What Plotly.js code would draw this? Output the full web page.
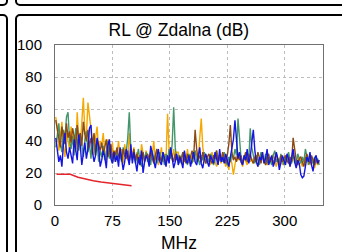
<!DOCTYPE html>
<html>
<head>
<meta charset="utf-8">
<script src="https://cdn.plot.ly/plotly-3.0.1.min.js"></script>
<style>
  html, body { margin: 0; padding: 0; background: #fff; overflow: hidden; }
  #wrap { position: relative; width: 342px; height: 252px; overflow: hidden; }
  #chart { position: absolute; left: 0; top: 0; width: 342px; height: 252px; }
  .frame { position: absolute; box-sizing: border-box; border: 2px solid #000; border-radius: 5px; pointer-events: none; }
</style>
</head>
<body>
<div id="wrap">
  <div id="chart"></div>
  <div class="frame" style="left:-100px; top:-100px; width:108px; height:106px;"></div>
  <div class="frame" style="left:-100px; top:14px; width:108px; height:400px;"></div>
  <div class="frame" style="left:15px; top:-100px; width:400px; height:106px;"></div>
  <div class="frame" style="left:15px; top:14px; width:400px; height:400px;"></div>
</div>
<script>
// Frequency sweep: start 1 MHz, step 2 MHz (applied through x0/dx)
const freqStart = 1;
const freqStep = 2;

const blueRL = [
  42, 35, 27, 31, 24, 38, 45, 33, 29, 36,
  30, 26, 41, 34, 28, 44, 37, 25, 32, 39,
  29, 35, 48, 50, 33, 27, 31, 42, 36, 24,
  28, 34, 30, 23, 37, 41, 29, 26, 33, 27,
  31, 24, 36, 29, 22, 27, 35, 30, 25, 38,
  26, 33, 28, 21, 30, 25, 34, 20, 27, 31,
  29, 24, 37, 32, 26, 23, 30, 35, 27, 25,
  33, 28, 24, 31, 26, 36, 29, 23, 27, 32,
  25, 30, 27, 23, 34, 28, 26, 31, 24, 29,
  33, 27, 25, 30, 36, 26, 23, 29, 32, 27,
  24, 31, 28, 26, 33, 29, 25, 35, 27, 30,
  26, 32, 28, 24, 30, 36, 41, 53, 38, 29,
  33, 27, 25, 31, 28, 35, 26, 30, 39, 47,
  34, 27, 24, 30, 28, 33, 26, 29, 35, 25,
  28, 31, 24, 27, 33, 29, 22, 26, 31, 28,
  25, 32, 29, 24, 30, 35, 27, 23, 28, 26,
  19, 17, 18, 24, 30, 27, 33, 25, 21, 29,
  31, 26, 28
];
const greenRL = [
  36, 44, 51, 38, 33, 47, 42, 55, 58, 40,
  35, 43, 31, 48, 39, 34, 45, 37, 30, 41,
  46, 33, 38, 29, 42, 36, 31, 39, 27, 34,
  30, 37, 28, 33, 40, 29, 35, 26, 32, 28,
  34, 29, 31, 27, 36, 30, 33, 42, 58, 35,
  28, 32, 26, 30, 35, 27, 24, 31, 29, 33,
  27, 30, 25, 34, 28, 31, 26, 29, 33, 27,
  30, 25, 32, 28, 35, 29, 38, 61, 36, 28,
  31, 26, 29, 33, 27, 30, 25, 32, 28, 26,
  30, 34, 27, 29, 25, 31, 28, 33, 26, 29,
  27, 32, 30, 25, 28, 34, 26, 31, 29, 27,
  33, 28, 25, 30, 27, 32, 29, 35, 31, 54,
  40, 29, 26, 31, 28, 33, 27, 48, 36, 30,
  26, 31, 28, 25, 33, 29, 27, 32, 26, 30,
  28, 25, 31, 34, 27, 29, 26, 32, 28, 25,
  30, 27, 33, 28, 26, 31, 29, 25, 32, 28,
  26, 30, 27, 35, 29, 25, 31, 28, 26, 30,
  27, 29, 25
];
const orangeRL = [
  55, 48, 34, 42, 52, 37, 30, 45, 40, 35,
  49, 38, 44, 33, 58, 41, 36, 52, 67, 46,
  43, 64, 56, 47, 38, 31, 42, 49, 34, 40,
  37, 45, 33, 28, 41, 36, 30, 39, 27, 34,
  32, 40, 29, 35, 26, 38, 31, 28, 45, 33,
  30, 36, 27, 33, 29, 25, 38, 31, 27, 34,
  29, 26, 35, 31, 40, 28, 33, 25, 30, 36,
  27, 32, 29, 57, 34, 31, 28, 35, 29, 33,
  33, 27, 30, 25, 32, 28, 35, 26, 31, 29,
  27, 34, 30, 28, 42, 54, 36, 29, 26, 31,
  28, 25, 33, 30, 27, 24, 31, 29, 26, 32,
  29, 24, 27, 22, 30, 26, 19, 25, 31, 28,
  33, 27, 24, 30, 28, 25, 32, 27, 29, 26,
  31, 28, 24, 30, 27, 33, 26, 29, 25, 28,
  30, 26, 32, 28, 24, 29, 27, 31, 25, 28,
  26, 30, 27, 24, 29, 32, 26, 28, 25, 30,
  27, 24, 29, 26, 31, 28, 25, 30, 26, 23,
  28, 25, 27
];
const brownRL = [
  53, 47, 40, 36, 49, 44, 38, 51, 42, 46,
  39, 48, 43, 35, 50, 41, 45, 37, 52, 44,
  40, 47, 36, 42, 38, 45, 33, 41, 37, 34,
  39, 32, 36, 41, 30, 35, 38, 29, 34, 31,
  36, 30, 33, 28, 35, 31, 29, 34, 27, 32,
  30, 35, 28, 32, 26, 31, 29, 33, 27, 30,
  32, 28, 34, 29, 26, 31, 35, 28, 30, 27,
  33, 29, 26, 31, 28, 34, 30, 27, 32, 29,
  28, 31, 27, 33, 29, 26, 32, 28, 30, 34,
  29, 47, 35, 28, 31, 27, 33, 29, 26, 30,
  32, 28, 26, 31, 29, 34, 27, 30, 28, 33,
  29, 26, 31, 38, 50, 33, 28, 30, 27, 32,
  28, 31, 26, 30, 33, 27, 29, 32, 28, 26,
  30, 27, 33, 29, 26, 31, 28, 25, 30, 32,
  27, 30, 26, 29, 32, 28, 25, 31, 27, 29,
  31, 28, 26, 30, 27, 42, 33, 28, 25, 29,
  30, 27, 24, 29, 32, 28, 26, 31, 27, 25,
  29, 26, 28
];
const limitFreq = [2, 10, 20, 30, 40, 50, 60, 70, 80, 90, 100];
const limitRL   = [19.2, 19.2, 19.2, 17.4, 16.2, 15.2, 14.4, 13.7, 13.2, 12.6, 12.0];

const xTicks = [0, 75, 150, 225, 300];
const yTicks = [0, 20, 40, 60, 80, 100];

const lw = 1.4;
function sweep(y, color) {
  return { type: 'scatter', mode: 'lines', x0: freqStart, dx: freqStep, y: y,
           line: { color: color, width: lw }, hoverinfo: 'skip', showlegend: false };
}
const traces = [
  sweep(orangeRL, '#f5a800'),
  sweep(greenRL, '#45956a'),
  sweep(brownRL, '#8b4a14'),
  sweep(blueRL, '#1515e0'),
  { type: 'scatter', mode: 'lines', x: limitFreq, y: limitRL,
    line: { color: '#e3242b', width: 1.5 }, hoverinfo: 'skip', showlegend: false }
];

const font = "Liberation Sans, Arial, sans-serif";
const layout = {
  width: 342, height: 252,
  margin: { l: 55, r: 19, t: 45, b: 47, pad: 0 },
  paper_bgcolor: 'rgba(0,0,0,0)',
  plot_bgcolor: '#ffffff',
  font: { family: font, size: 15, color: '#000' },
  title: { text: 'RL @ Zdalna (dB)', font: { family: font, size: 17.5, color: '#000' },
           xref: 'container', yref: 'container', x: 0.523, y: 0.881,
           xanchor: 'center', yanchor: 'middle' },
  xaxis: {
    range: [0, 350], tickvals: xTicks, ticktext: xTicks.map(String),
    showgrid: true, gridcolor: '#bdbdbd', griddash: 'dot', gridwidth: 1,
    showline: true, linecolor: '#707070', linewidth: 1, mirror: true,
    zeroline: false, ticks: '', ticklabelstandoff: 2,
    tickfont: { family: font, size: 15, color: '#000' }
  },
  yaxis: {
    range: [0, 100], tickvals: yTicks, ticktext: yTicks.map(String),
    showgrid: true, gridcolor: '#bdbdbd', griddash: 'dot', gridwidth: 1,
    showline: true, linecolor: '#707070', linewidth: 1, mirror: true,
    zeroline: false, ticks: '', ticklabelstandoff: 9,
    tickfont: { family: font, size: 15, color: '#000' }
  },
  annotations: [{
    text: 'MHz', xref: 'paper', yref: 'paper', x: 0.462, y: -0.2375,
    xanchor: 'center', yanchor: 'middle', showarrow: false,
    font: { family: font, size: 17.5, color: '#000' }
  }]
};

Plotly.newPlot('chart', traces, layout, { staticPlot: true, displayModeBar: false });
</script>
</body>
</html>
